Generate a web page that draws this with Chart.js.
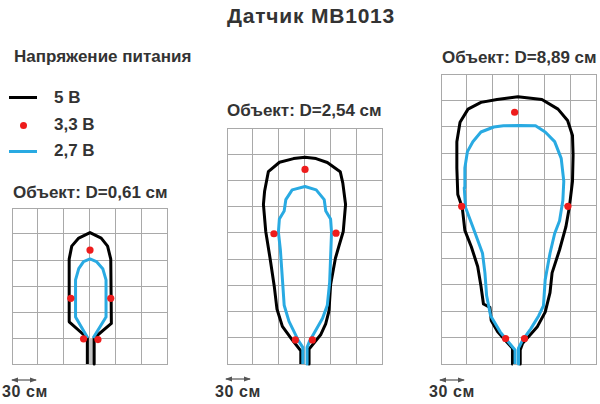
<html>
<head>
<meta charset="utf-8">
<script src="https://cdn.jsdelivr.net/npm/chart.js"></script>
<style>
  body { margin: 0; width: 600px; height: 404px; background: #fff; position: relative; overflow: hidden;
         font-family: "Liberation Sans", Arial, sans-serif; font-weight: bold; color: #333; }
  .t { position: absolute; white-space: nowrap; line-height: 1; }
  canvas { position: absolute; }
  .sw { position: absolute; }
</style>
</head>
<body>
  <div class="t" style="left:0; width:622px; text-align:center; top:5px; font-size:21px; letter-spacing:0.8px;">Датчик MB1013</div>

  <div class="t" style="left:14px; top:48px; font-size:17px;">Напряжение питания</div>
  <div class="sw" style="left:9px; top:96px; width:28px; height:3px; background:#000;"></div>
  <div class="t" style="left:54px; top:89px; font-size:17px;">5 В</div>
  <div class="sw" style="left:20px; top:122px; width:7px; height:7px; border-radius:50%; background:#ee1c1c;"></div>
  <div class="t" style="left:54px; top:116px; font-size:17px;">3,3 В</div>
  <div class="sw" style="left:9px; top:150px; width:28px; height:3px; background:#29aae2;"></div>
  <div class="t" style="left:54px; top:142px; font-size:17px;">2,7 В</div>

  <div class="t" style="left:13px; top:184px; font-size:17px;">Объект: D=0,61 см</div>
  <div class="t" style="left:227px; top:102px; font-size:17px;">Объект: D=2,54 см</div>
  <div class="t" style="left:442px; top:49px; font-size:17px;">Объект: D=8,89 см</div>

  <canvas id="c1" width="163" height="164" style="left:8px; top:204px;"></canvas>
  <canvas id="c2" width="163" height="244" style="left:223px; top:124px;"></canvas>
  <canvas id="c3" width="163" height="298" style="left:437px; top:70px;"></canvas>

  <svg class="sw" style="left:10px; top:376px;" width="28" height="8"><path d="M2 4H26" stroke="#555" stroke-width="1.2"/><path d="M1 4L8 1.5V6.5Z M27 4L20 1.5V6.5Z" fill="#555"/></svg>
  <div class="t" style="left:2px; top:384px; font-size:16px; letter-spacing:0.6px;">30 см</div>
  <svg class="sw" style="left:224px; top:375px;" width="28" height="8"><path d="M2 4H26" stroke="#555" stroke-width="1.2"/><path d="M1 4L8 1.5V6.5Z M27 4L20 1.5V6.5Z" fill="#555"/></svg>
  <div class="t" style="left:215px; top:384px; font-size:16px; letter-spacing:0.6px;">30 см</div>
  <svg class="sw" style="left:438px; top:376px;" width="28" height="8"><path d="M2 4H26" stroke="#555" stroke-width="1.2"/><path d="M1 4L8 1.5V6.5Z M27 4L20 1.5V6.5Z" fill="#555"/></svg>
  <div class="t" style="left:429px; top:384px; font-size:16px; letter-spacing:0.6px;">30 см</div>

<script>
  // all values in cm, x = across the beam, y = distance from the sensor; grid cell = 30 cm
  const cell = 30;

  // D = 0,61 cm
  const d061Black = [[-2.5,0],[-2.5,30],[-23.6,48.7],[-23.6,121],[-20.6,136],[-12.5,145.3],[0.6,151.6],[13.6,145.3],[21,136],[24.7,121],[25.4,46.8],[5.4,30],[5.4,0]];
  const d061Blue = [[-2,30],[-16.2,54.3],[-16.2,97],[-12.5,110],[-6.9,118.2],[0.6,121.2],[8,118.2],[15.4,110],[19.2,97],[19.2,54.3],[4.2,30]];
  const d061Red = [[0.6,131.5],[-21.7,75.8],[24.7,75.8],[-6.9,29],[9.8,28.2]];
  const d061Stem = [[1.4,0],[1.4,30]];
  const d061Rows = 6;

  // D = 2,54 cm
  const d254Black = [[-4.3,0],[-4.3,15],[-14.5,28],[-25.7,43],[-32,63],[-35,88],[-40,121],[-45,151.6],[-47.7,182.5],[-46.3,198],[-42,220],[-29,230.8],[-12.7,235],[0.6,236.5],[13.4,235],[26.5,230.5],[41.5,220],[44.5,207],[47.7,182.5],[45,151.6],[40,135],[35.9,121],[30.3,90.6],[28.4,60.5],[24.6,46],[19,33.8],[5.3,17],[5.3,0]];
  const d254Blue = [[-2,0],[-2,19],[-6.9,26.4],[-18,48.7],[-23.6,67.2],[-25.4,93.3],[-28,130.4],[-30.3,150.8],[-29.2,165.8],[-23.6,175],[-21.7,188],[-14.3,199.2],[0.6,203],[13.6,199.2],[22.9,188],[24.7,175],[30.3,165.8],[31.4,150.8],[29.2,93.3],[26.5,67.2],[21,52.4],[6,26.4],[3,19],[3,0]];
  const d254Red = [[0.6,222.6],[-35.5,149],[36.6,149.7],[-10.6,27.5],[9.1,27.5]];
  const d254Rows = 9;

  // D = 8,89 cm
  const d889Black = [[-6.5,0],[-7,18],[-15.7,27.2],[-24.2,36.6],[-31.7,49.6],[-33.2,64.5],[-40.7,68.3],[-43.6,88.8],[-47.4,111],[-54.8,133.5],[-62.3,152],[-65.3,178],[-70.5,193],[-71.6,223],[-71.6,253],[-67.9,275],[-58.6,290],[-43.6,297.7],[-25,301],[-0.7,304],[27.2,301],[45.9,290],[57,277],[62.7,260],[63.4,238],[62.7,208],[59,178],[55,156],[47.7,130],[39,103.7],[36.6,81.3],[31,59],[21.6,42],[11.6,31],[4.8,23.5],[2,16],[2,0]];
  const d889Blue = [[-4,0],[-4,16],[-12,25.4],[-21.3,36.6],[-32.4,55],[-37,77.6],[-39,103.7],[-41.8,126],[-53,156],[-61.5,178],[-63,200.7],[-62.3,223],[-59.3,241.7],[-53,253],[-43.6,264],[-28.7,269.7],[-17.5,271],[1.1,271.5],[19.8,271],[31,264],[42,253],[49.6,234],[52.6,208],[51.5,186],[47.7,163],[42,148.5],[36.6,126],[31,96],[29,66.4],[23.5,55],[14.2,40],[4.8,27.2],[0,18],[0,0]];
  const d889Red = [[-4.5,286.5],[-66,179.4],[57.4,179.4],[-15,29],[7,29]];
  const d889Rows = 11;

  const gridColor = '#a9a9a9';

  function pts(a) { return a.map(p => ({ x: p[0], y: p[1] })); }

  function lineSet(data, color, width, order) {
    return { data: pts(data), borderColor: color, borderWidth: width, pointRadius: 0,
             tension: 0, fill: false, clip: false, order: order,
             borderJoinStyle: 'round', borderCapStyle: 'butt' };
  }

  function panel(id, rows, black, blue, red, stem) {
    const sets = [
      { data: pts(red), showLine: false, pointRadius: 3.6, pointBackgroundColor: '#ee1c1c',
        pointBorderWidth: 0, clip: false, order: 0 },
      lineSet(blue, '#29aae2', 3, 1),
      lineSet(black, '#000', 3, 2)
    ];
    if (stem) sets.push(lineSet(stem, '#c4c4c4', 5, 3));
    new Chart(document.getElementById(id), {
      type: 'line',
      data: { datasets: sets },
      options: {
        responsive: false,
        animation: false,
        layout: { padding: 1 },
        plugins: { legend: { display: false }, tooltip: { enabled: false } },
        scales: {
          x: { type: 'linear', min: -3 * cell, max: 3 * cell,
               ticks: { stepSize: cell, display: false },
               grid: { color: gridColor, drawTicks: false },
               border: { display: true, color: gridColor } },
          y: { type: 'linear', min: 0, max: rows * cell,
               ticks: { stepSize: cell, display: false },
               grid: { color: gridColor, drawTicks: false },
               border: { display: true, color: gridColor } }
        }
      }
    });
  }

  panel('c1', d061Rows, d061Black, d061Blue, d061Red, d061Stem);
  panel('c2', d254Rows, d254Black, d254Blue, d254Red, null);
  panel('c3', d889Rows, d889Black, d889Blue, d889Red, null);
</script>
</body>
</html>
